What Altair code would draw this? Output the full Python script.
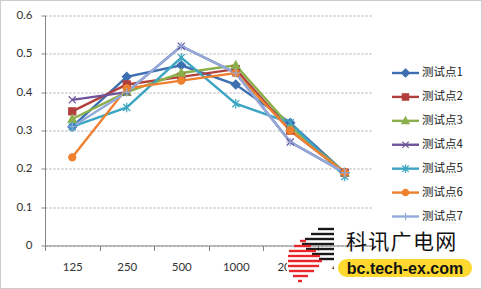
import altair as alt
import pandas as pd

# ---------------- data ----------------
freqs = ["125", "250", "500", "1000", "2000", "4000"]
series_names = ["测试点1", "测试点2", "测试点3", "测试点4", "测试点5", "测试点6", "测试点7"]
s1 = [0.31, 0.44, 0.47, 0.42, 0.32, 0.19]
s2 = [0.35, 0.42, 0.44, 0.46, 0.30, 0.19]
s3 = [0.33, 0.40, 0.45, 0.47, 0.31, 0.19]
s4 = [0.38, 0.40, 0.52, 0.45, 0.27, 0.19]
s5 = [0.31, 0.36, 0.49, 0.37, 0.32, 0.18]
s6 = [0.23, 0.41, 0.43, 0.45, 0.30, 0.19]
s7 = [0.31, 0.40, 0.52, 0.45, 0.27, 0.19]
y_ticks = [0, 0.1, 0.2, 0.3, 0.4, 0.5, 0.6]

colors = ["#3E6FB0", "#B23F3C", "#8BB04B", "#6F559A", "#3CA5C3", "#EE8130", "#92ABDA"]

# marker shapes
point_shapes = [
    "M0,-1.25L1.25,0L0,1.25L-1.25,0Z",
    "M-1,-1H1V1H-1Z",
    "M0,-1.2L1.15,0.9H-1.15Z",
    "M-1,-1L1,1M-1,1L1,-1",
    "M-1,-1L1,1M-1,1L1,-1M0,-1.35V1.35",
    "circle",
    "M-1.2,0H1.2M0,-1.2V1.2",
]

all_series = [s1, s2, s3, s4, s5, s6, s7]
rows = []
for name, vals in zip(series_names, all_series):
    for f, v in zip(freqs, vals):
        rows.append({"freq": f, "value": v, "series": name})
df = pd.DataFrame(rows)
legend_df = pd.DataFrame({"series": series_names})

NUM_FONT = "Lato"
CJK_FONT = "Noto Sans CJK SC"
OX, OY = 45, 15.5  # plot origin in page pixels

color_scale = alt.Scale(domain=series_names, range=colors)

x_enc = alt.X(
    "freq:N",
    sort=freqs,
    bandPosition=0.5,
    scale=alt.Scale(type="band", domain=freqs, paddingInner=0, paddingOuter=0),
    axis=alt.Axis(
        title=None, labelAngle=0, tickBand="extent", grid=False,
        domainColor="#868686", tickColor="#868686", tickSize=5,
        labelPadding=11, labelFont=NUM_FONT, labelFontSize=11.5, labelColor="#333333",
    ),
)
y_enc = alt.Y(
    "value:Q",
    scale=alt.Scale(domain=[0, 0.6], nice=False),
    axis=alt.Axis(
        title=None, values=y_ticks, grid=True, gridColor="#a6a6a6", gridDash=[2, 2],
        domainColor="#868686", tickColor="#868686", tickSize=4, labelPadding=9,
        labelFont=NUM_FONT, labelFontSize=11.5, labelColor="#333333",
        labelExpr="datum.value == 0 ? '0' : format(datum.value, '.1f')",
    ),
)

base = alt.Chart(df)

lines = base.mark_line(strokeWidth=2.4).encode(
    x=x_enc, y=y_enc,
    color=alt.Color("series:N", scale=color_scale, legend=None),
    detail="series:N",
)

main_layers = [lines]
for name, col, shp in zip(series_names, colors, point_shapes):
    main_layers.append(
        base.transform_filter(alt.datum.series == name)
        .mark_point(shape=shp, filled=True, size=50, strokeWidth=1.2, fill=col, stroke=col, opacity=1)
        .encode(x=x_enc, y=y_enc)
    )
main = alt.layer(*main_layers)

# ---------------- legend (line + marker + label per series) ----------------
leg_base = alt.Chart(legend_df)
leg_y = alt.Y("series:N", sort=series_names, axis=None,
              scale=alt.Scale(type="point", domain=series_names, range=[73 - OY, 216.5 - OY], padding=0))
leg_layers = [
    leg_base.mark_rule(strokeWidth=2.4).encode(
        x=alt.value(392 - OX), x2=alt.value(419 - OX), y=leg_y,
        color=alt.Color("series:N", scale=color_scale, legend=None),
    )
]
for name, col, shp in zip(series_names, colors, point_shapes):
    leg_layers.append(
        leg_base.transform_filter(alt.datum.series == name)
        .mark_point(shape=shp, filled=True, size=40, strokeWidth=1.2, fill=col, stroke=col, opacity=1)
        .encode(x=alt.value(405.5 - OX), y=leg_y)
    )
leg_layers.append(
    leg_base.mark_text(align="left", baseline="middle", font=CJK_FONT, fontSize=11.5, color="#222222").encode(
        x=alt.value(422 - OX), y=leg_y, text="series:N")
)
legend = alt.layer(*leg_layers)

# ---------------- decorations: border and watermark ----------------
one = alt.Data(values=[{"a": 1}])
deco = alt.Chart(one)
deco_layers = []
deco_layers.append(deco.mark_rect(fill="transparent", stroke="#9a9a9a", strokeWidth=1, strokeDash=[1, 1]).encode(
    x=alt.value(0.5 - OX), x2=alt.value(481.5 - OX), y=alt.value(0.5 - OY), y2=alt.value(288.5 - OY)))

deco_layers.append(deco.mark_rect(fill="white").encode(
    x=alt.value(287 - OX), x2=alt.value(330 - OX), y=alt.value(252 - OY), y2=alt.value(288 - OY)))
deco_layers.append(deco.mark_rect(fill="white").encode(
    x=alt.value(334 - OX), x2=alt.value(345 - OX), y=alt.value(252 - OY), y2=alt.value(288 - OY)))

black_y = [229, 234, 239, 244, 249, 254, 259]
black_x1 = [318, 311, 305, 302, 306, 312, 319]
black_x2 = [334, 334, 334, 334, 334, 334, 334]
red_y = [241, 246, 251, 256, 261, 266, 271, 276, 281]
red_x1 = [300, 294, 289, 288, 288, 288, 289, 293, 298]
red_x2 = [306, 311, 316, 320, 322, 319, 314, 308, 302]
for yy, a, b in zip(black_y, black_x1, black_x2):
    deco_layers.append(deco.mark_rule(color="#1a1a1a", strokeWidth=2.4).encode(
        x=alt.value(a - OX), x2=alt.value(b - OX), y=alt.value(yy - OY)))
for yy, a, b in zip(red_y, red_x1, red_x2):
    deco_layers.append(deco.mark_rule(color="#E8262C", strokeWidth=2.4).encode(
        x=alt.value(a - OX), x2=alt.value(b - OX), y=alt.value(yy - OY)))

deco_layers.append(deco.mark_rect(fill="#FFD92F", cornerRadius=9).encode(
    x=alt.value(338 - OX), x2=alt.value(472 - OX), y=alt.value(259 - OY), y2=alt.value(277 - OY)))
deco_layers.append(deco.mark_text(text="bc.tech-ex.com", font="Liberation Sans", fontSize=16,
                                  fontWeight="bold", color="#111111", align="center", baseline="middle").encode(
    x=alt.value(405 - OX), y=alt.value(268.5 - OY)))
deco_layers.append(deco.mark_text(text="科\u200a讯\u200a广\u200a电\u200a网", font=CJK_FONT, fontSize=21,
                                  color="#111111", align="left", baseline="middle").encode(
    x=alt.value(346 - OX), y=alt.value(243 - OY)))
decorations = alt.layer(*deco_layers)

chart = (
    alt.layer(main, legend, decorations)
    .resolve_scale(y="independent")
    .properties(
        width=327, height=230,
        padding={"left": 45, "top": 15.5, "right": 110, "bottom": 43.5},
        autosize=alt.AutoSizeParams(type="none"),
        background="white",
    )
    .configure_view(stroke=None)
)

chart.save("out.html", embed_options={"renderer": "svg", "actions": False})
